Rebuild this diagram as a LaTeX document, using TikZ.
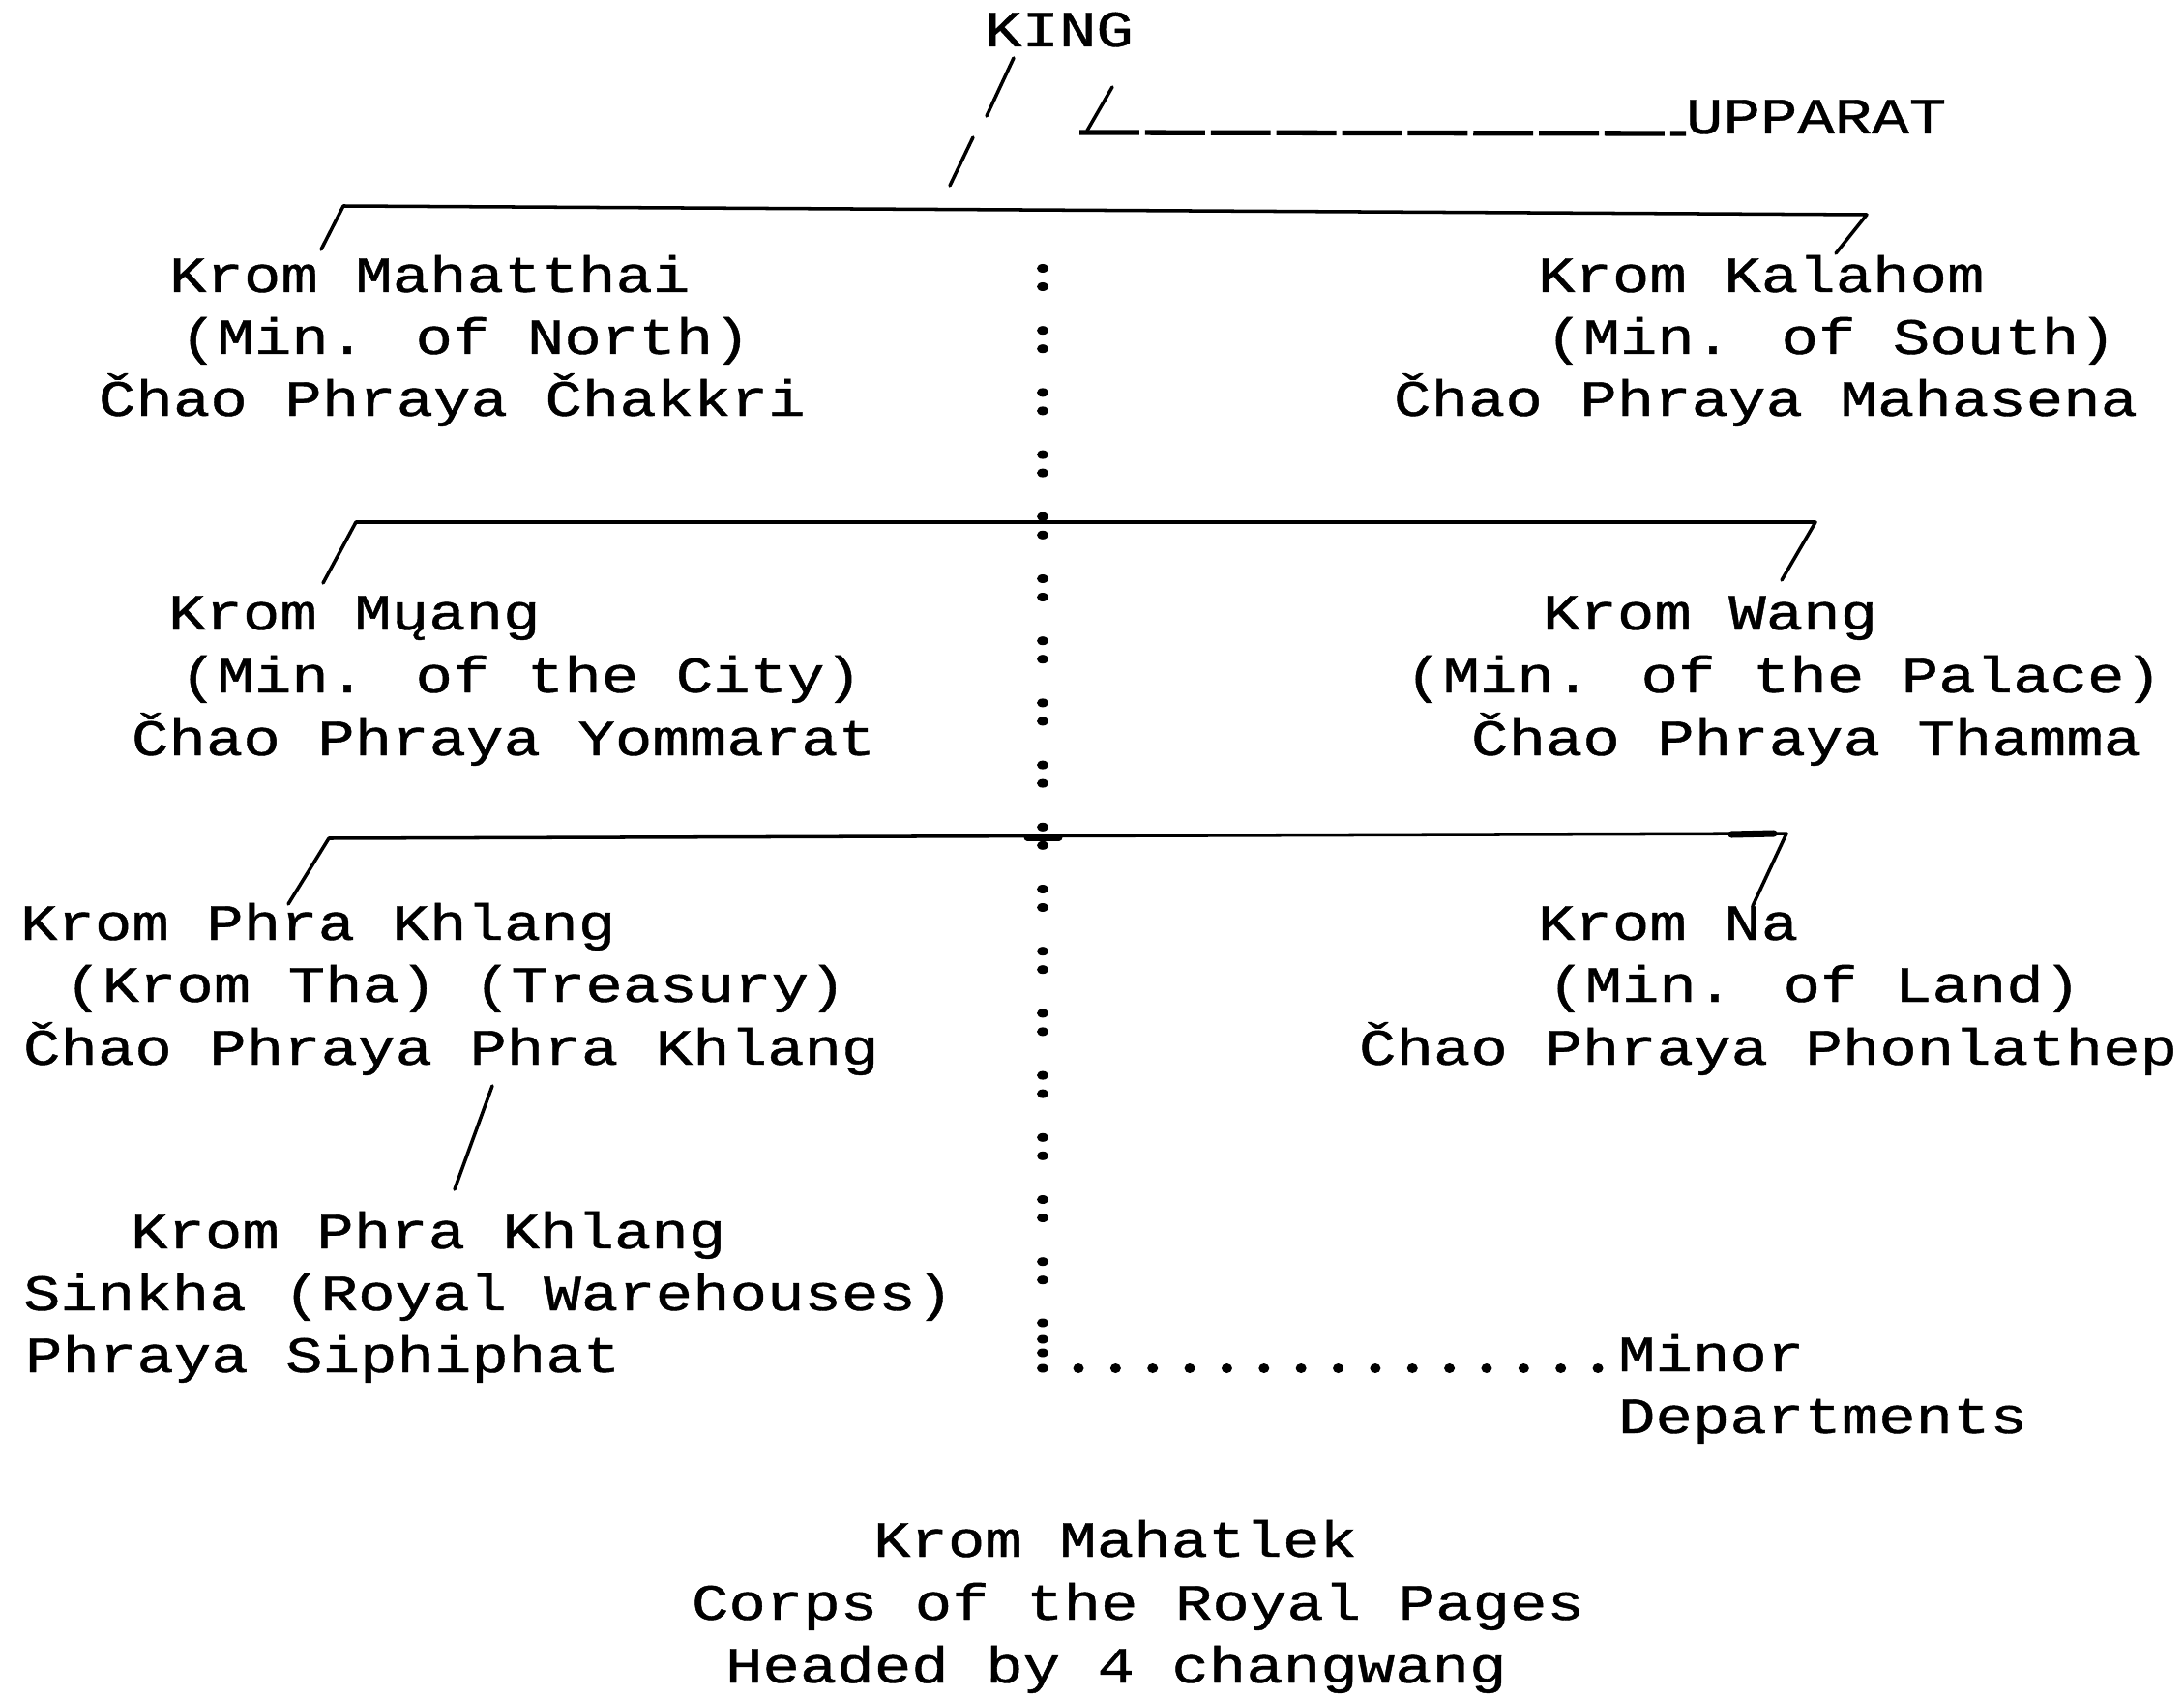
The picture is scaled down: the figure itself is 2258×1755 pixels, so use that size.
\documentclass[tikz,border=0pt]{standalone}
\usepackage{fontspec}
\newfontfamily\twfont[FakeStretch=1.215,FakeBold=0.8]{Liberation Mono}
\begin{document}
\begin{tikzpicture}[x=0.01cm,y=-0.01cm,
  tw/.style={font=\twfont\fontsize{15pt}{15pt}\selectfont, anchor=base west, inner sep=0pt, outer sep=0pt, text=black},
  link/.style={line width=1pt, line cap=round, line join=round},
  heavy/.style={line width=2pt, line cap=round},
  uline/.style={line width=1.5pt, dash pattern=on 17.6pt off 1.7pt},
  dotmark/.style={fill=black}
]
\useasboundingbox (0,0) rectangle (2258,1755);

% ---- text ----
\node[tw] (king) at (1018,48) {KING};
\node[tw] (upp) at (1743,138) {UPPARAT};

\node[tw] (mahA) at (175,302) {Krom Mahatthai};
\node[tw] (mahB) at (186,366) {(Min. of North)};
\node[tw] (mahC) at (102,430) {Čhao Phraya Čhakkri};

\node[tw] (kalA) at (1590,302) {Krom Kalahom};
\node[tw] (kalB) at (1598,366) {(Min. of South)};
\node[tw] (kalC) at (1441,430) {Čhao Phraya Mahasena};

\node[tw] (muaA) at (174,651) {Krom Mųang};
\node[tw] (muaB) at (186,716) {(Min. of the City)};
\node[tw] (muaC) at (136,781) {Čhao Phraya Yommarat};

\node[tw] (wanA) at (1595,651) {Krom Wang};
\node[tw] (wanB) at (1453,716) {(Min. of the Palace)};
\node[tw] (wanC) at (1521,781) {Čhao Phraya Thamma};

\node[tw] (khlA) at (21,972) {Krom Phra Khlang};
\node[tw] (khlB) at (67,1036) {(Krom Tha) (Treasury)};
\node[tw] (khlC) at (24,1101) {Čhao Phraya Phra Khlang};

\node[tw] (naA) at (1590,972) {Krom Na};
\node[tw] (naB) at (1600,1036) {(Min. of Land)};
\node[tw] (naC) at (1405,1101) {Čhao Phraya Phonlathep};

\node[tw] (sinA) at (135,1291) {Krom Phra Khlang};
\node[tw] (sinB) at (24,1355) {Sinkha (Royal Warehouses)};
\node[tw] (sinC) at (26,1419) {Phraya Siphiphat};

\node[tw] (minA) at (1673,1418) {Minor};
\node[tw] (minB) at (1673,1482) {Departments};

\node[tw] (pagA) at (903,1610) {Krom Mahatlek};
\node[tw] (pagB) at (715,1675) {Corps of the Royal Pages};
\node[tw] (pagC) at (750,1740) {Headed by 4 changwang};

% ---- connector points ----
\coordinate (kA) at (1048,60);  \coordinate (kB) at (1020,120);
\coordinate (kC) at (1006,142); \coordinate (kD) at (982,192);
\coordinate (uA) at (1150,90);  \coordinate (uB) at (1124,135);
\coordinate (uC) at (1116,137);

\coordinate (aL) at (355,213);  \coordinate (aR) at (1930,222);
\coordinate (aLb) at (332,258); \coordinate (aRb) at (1898,262);
\coordinate (bL) at (368,540);  \coordinate (bR) at (1877,540);
\coordinate (bLb) at (334,603); \coordinate (bRb) at (1842,600);
\coordinate (cL) at (340,867);  \coordinate (cR) at (1847,862);
\coordinate (cLb) at (298,935); \coordinate (cRb) at (1812,937);
\coordinate (sA) at (509,1123); \coordinate (sB) at (470,1230);

% ---- connectors ----
\draw[link] (kA) -- (kB);
\draw[link] (kC) -- (kD);
\draw[link] (uA) -- (uB);
\draw[uline] (uC) -- (upp.base west);

\draw[link] (aLb) -- (aL) -- (aR) -- (aRb);
\draw[link] (bLb) -- (bL) -- (bR) -- (bRb);
\draw[link] (cLb) -- (cL) -- (cR) -- (cRb);
\draw[heavy] (1062,866) -- (1095,866);
\draw[heavy] (1790,863) -- (1834,862);
\draw[link] (sA) -- (sB);

% ---- dotted column (typed colons) ----
\foreach \k in {0,...,16} {
  \fill[dotmark] (1078,{287+64.2*\k-9.5}) ellipse [x radius=0.06cm, y radius=0.045cm];
  \fill[dotmark] (1078,{287+64.2*\k+9.5}) ellipse [x radius=0.06cm, y radius=0.045cm];
}
\foreach \yy in {1368,1385,1399,1415} {
  \fill[dotmark] (1078,\yy) ellipse [x radius=0.06cm, y radius=0.045cm];
}
% ---- dotted row (typed periods) to Minor Departments ----
\foreach \i in {0,...,14} {
  \fill[dotmark] ({1115+38.36*\i},1415) ellipse [x radius=0.055cm, y radius=0.05cm];
}
\end{tikzpicture}
\end{document}
